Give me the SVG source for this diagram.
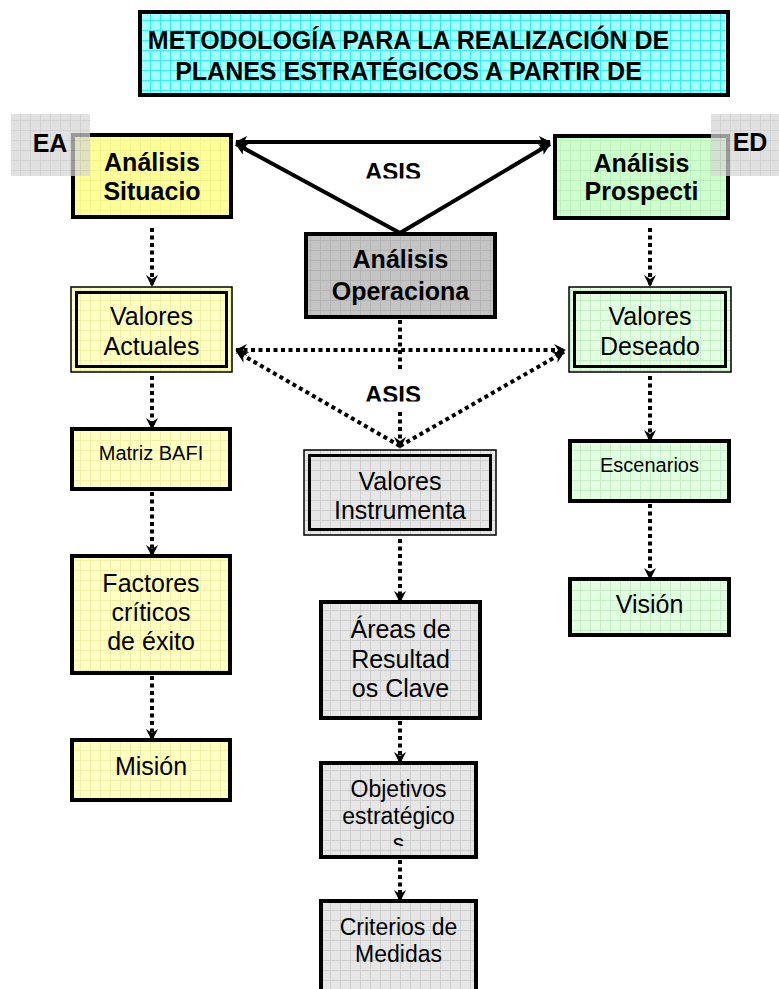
<svg xmlns="http://www.w3.org/2000/svg" width="779" height="989" viewBox="0 0 779 989">
<style>
.b{stroke:#000;stroke-width:4}
.t{font-family:"Liberation Sans",Arial,sans-serif;fill:#000;text-anchor:middle}
.bold{font-weight:bold}
.f25{font-size:25px}.f24{font-size:24px}.f23{font-size:23px}.f20{font-size:20px}
.solid{stroke:#000;stroke-width:4;fill:none}
.dot{stroke:#000;stroke-width:4;fill:none;stroke-dasharray:4 3.5}
</style>
<defs>
<pattern id="pCyan" width="10" height="10" patternUnits="userSpaceOnUse"><rect width="10" height="10" fill="#a8ffff"/><path d="M0 0.5H10M0.5 0V10" stroke="#33f0f0" stroke-width="1"/></pattern>
<pattern id="pY1" width="10" height="10" patternUnits="userSpaceOnUse"><rect width="10" height="10" fill="#ffff99"/><path d="M0 0.5H10M0.5 0V10" stroke="#f4f48e" stroke-width="1"/></pattern>
<pattern id="pY2" width="10" height="10" patternUnits="userSpaceOnUse"><rect width="10" height="10" fill="#ffffc4"/><path d="M0 0.5H10M0.5 0V10" stroke="#efefa6" stroke-width="1"/></pattern>
<pattern id="pG1" width="10" height="10" patternUnits="userSpaceOnUse"><rect width="10" height="10" fill="#ccffcc"/><path d="M0 0.5H10M0.5 0V10" stroke="#bdf0bd" stroke-width="1"/></pattern>
<pattern id="pG2" width="10" height="10" patternUnits="userSpaceOnUse"><rect width="10" height="10" fill="#e2ffe2"/><path d="M0 0.5H10M0.5 0V10" stroke="#c6efc6" stroke-width="1"/></pattern>
<pattern id="pK1" width="10" height="10" patternUnits="userSpaceOnUse"><rect width="10" height="10" fill="#c4c4c4"/><path d="M0 0.5H10M0.5 0V10" stroke="#b4b4b4" stroke-width="1"/></pattern>
<pattern id="pK2" width="10" height="10" patternUnits="userSpaceOnUse"><rect width="10" height="10" fill="#e6e6e6"/><path d="M0 0.5H10M0.5 0V10" stroke="#cdcdcd" stroke-width="1"/></pattern>
<pattern id="pK3" width="10" height="10" patternUnits="userSpaceOnUse"><rect width="10" height="10" fill="#d6d6d6"/><path d="M0 0.5H10M0.5 0V10" stroke="#c2c2c2" stroke-width="1"/></pattern>
<marker id="aS" viewBox="0 0 12 12" refX="11" refY="6" markerWidth="12" markerHeight="12" markerUnits="userSpaceOnUse" orient="auto-start-reverse"><path d="M0,0 L12,6 L0,12 L3,6 z" fill="#000"/></marker>
<marker id="aD" viewBox="0 0 12 12" refX="11" refY="6" markerWidth="12" markerHeight="12" markerUnits="userSpaceOnUse" orient="auto-start-reverse"><path d="M0,0 L12,6 L0,12 L4,6 z" fill="#000"/></marker>
<clipPath id="c1"><rect x="340" y="150" width="120" height="28.5"/></clipPath>
<clipPath id="c2"><rect x="340" y="375" width="120" height="26.5"/></clipPath>
<clipPath id="c3"><rect x="321" y="763" width="155" height="83"/></clipPath>
</defs>

<g id="title"><rect x="140" y="12" width="588" height="83" fill="url(#pCyan)" class="b"/>
<text class="t bold f25" x="408.5" y="48.5">METODOLOGÍA PARA LA REALIZACIÓN DE</text>
<text class="t bold f25" x="408.5" y="79.5">PLANES ESTRATÉGICOS A PARTIR DE</text></g>

<g id="connectors">
<line class="solid" x1="236" y1="142" x2="550" y2="142" marker-start="url(#aS)" marker-end="url(#aS)"/>
<line class="solid" x1="400" y1="233" x2="236" y2="144" marker-end="url(#aS)"/>
<line class="solid" x1="400" y1="233" x2="550" y2="144" marker-end="url(#aS)"/>
<line class="dot" x1="152" y1="228" x2="152" y2="286" marker-end="url(#aD)"/>
<line class="dot" x1="650" y1="228" x2="650" y2="286" marker-end="url(#aD)"/>
<line class="dot" x1="152" y1="376" x2="152" y2="429" marker-end="url(#aD)"/>
<line class="dot" x1="152" y1="492" x2="152" y2="556" marker-end="url(#aD)"/>
<line class="dot" x1="152" y1="676" x2="152" y2="740" marker-end="url(#aD)"/>
<line class="dot" x1="650" y1="376" x2="650" y2="441" marker-end="url(#aD)"/>
<line class="dot" x1="650" y1="504" x2="650" y2="579" marker-end="url(#aD)"/>
<line class="dot" x1="400" y1="539" x2="400" y2="602" marker-end="url(#aD)"/>
<line class="dot" x1="400" y1="721" x2="400" y2="763" marker-end="url(#aD)"/>
<line class="dot" x1="400" y1="860" x2="400" y2="901" marker-end="url(#aD)"/>
<line class="dot" x1="236" y1="350" x2="565" y2="350" marker-start="url(#aD)" marker-end="url(#aD)"/>
<line class="dot" x1="400" y1="446" x2="237" y2="352" marker-end="url(#aD)"/>
<line class="dot" x1="400" y1="446" x2="564" y2="352" marker-end="url(#aD)"/>
<line class="dot" x1="400" y1="320" x2="400" y2="370"/>
<line class="dot" x1="400" y1="412" x2="400" y2="448" marker-end="url(#aD)"/>
<text class="t bold f24" x="393" y="180" clip-path="url(#c1)">ASIS</text>
<text class="t bold f24" x="393" y="403" clip-path="url(#c2)">ASIS</text>
</g>

<g id="situacional"><rect x="73" y="135" width="158" height="82" fill="url(#pY1)" class="b"/>
<text class="t bold f25" x="152" y="171">Análisis</text><text class="t bold f25" x="152" y="200">Situacio</text></g>
<g id="ea"><rect x="11" y="114" width="79" height="62" fill="url(#pK3)" opacity="0.72"/>
<text class="t bold f25" x="50" y="152">EA</text></g>

<g id="prospectivo"><rect x="555" y="136" width="173" height="82" fill="url(#pG1)" class="b"/>
<text class="t bold f25" x="641.5" y="172">Análisis</text><text class="t bold f25" x="641.5" y="200">Prospecti</text></g>
<g id="ed"><rect x="711" y="114" width="68" height="62" fill="url(#pK3)" opacity="0.72"/>
<text class="t bold f25" x="750" y="151">ED</text></g>

<g id="operacional"><rect x="306" y="234" width="189" height="83" fill="url(#pK1)" class="b"/>
<text class="t bold f25" x="400.5" y="268">Análisis</text><text class="t bold f25" x="400.5" y="300">Operaciona</text></g>

<g id="valores-actuales"><rect x="71" y="287" width="161" height="85" fill="url(#pY2)" stroke="#000" stroke-width="1.5"/>
<rect x="76.5" y="292.5" width="150" height="74" fill="none" stroke="#000" stroke-width="3"/>
<text class="t f25" x="151.5" y="325">Valores</text><text class="t f25" x="151.5" y="355">Actuales</text></g>

<g id="valores-deseados"><rect x="569" y="287" width="162" height="85" fill="url(#pG2)" stroke="#000" stroke-width="1.5"/>
<rect x="574.5" y="292.5" width="151" height="74" fill="none" stroke="#000" stroke-width="3"/>
<text class="t f25" x="650" y="325">Valores</text><text class="t f25" x="650" y="355">Deseado</text></g>

<g id="valores-instrumentales"><rect x="304" y="450" width="192" height="85" fill="url(#pK2)" stroke="#000" stroke-width="1.5"/>
<rect x="309.5" y="455.5" width="181" height="74" fill="none" stroke="#000" stroke-width="3"/>
<text class="t f25" x="400" y="490">Valores</text><text class="t f25" x="400" y="519">Instrumenta</text></g>

<g id="matriz-bafi"><rect x="72" y="429" width="158" height="60" fill="url(#pY2)" class="b"/>
<text class="t f20" x="151" y="460">Matriz BAFI</text></g>

<g id="factores"><rect x="72" y="556" width="158" height="117" fill="url(#pY2)" class="b"/>
<text class="t f25" x="151" y="592">Factores</text><text class="t f25" x="151" y="621">críticos</text><text class="t f25" x="151" y="650">de éxito</text></g>

<g id="mision"><rect x="72" y="740" width="158" height="60" fill="url(#pY2)" class="b"/>
<text class="t f25" x="151" y="775">Misión</text></g>

<g id="escenarios"><rect x="570" y="441" width="159" height="60" fill="url(#pG2)" class="b"/>
<text class="t f20" x="649.5" y="472">Escenarios</text></g>

<g id="vision"><rect x="570" y="579" width="159" height="56" fill="url(#pG2)" class="b"/>
<text class="t f25" x="649.5" y="613">Visión</text></g>

<g id="areas"><rect x="321" y="602" width="159" height="116" fill="url(#pK2)" class="b"/>
<text class="t f25" x="400.5" y="638">Áreas de</text><text class="t f25" x="400.5" y="668">Resultad</text><text class="t f25" x="400.5" y="697">os Clave</text></g>

<g id="objetivos"><rect x="321" y="763" width="155" height="94" fill="url(#pK2)" class="b"/>
<g clip-path="url(#c3)"><text class="t f23" x="398.5" y="797">Objetivos</text><text class="t f23" x="398.5" y="824">estratégico</text><text class="t f23" x="398.5" y="851">s</text></g></g>

<g id="criterios"><rect x="321" y="901" width="155" height="100" fill="url(#pK2)" class="b"/>
<text class="t f23" x="398.5" y="935">Criterios de</text><text class="t f23" x="398.5" y="962">Medidas</text></g>
</svg>
